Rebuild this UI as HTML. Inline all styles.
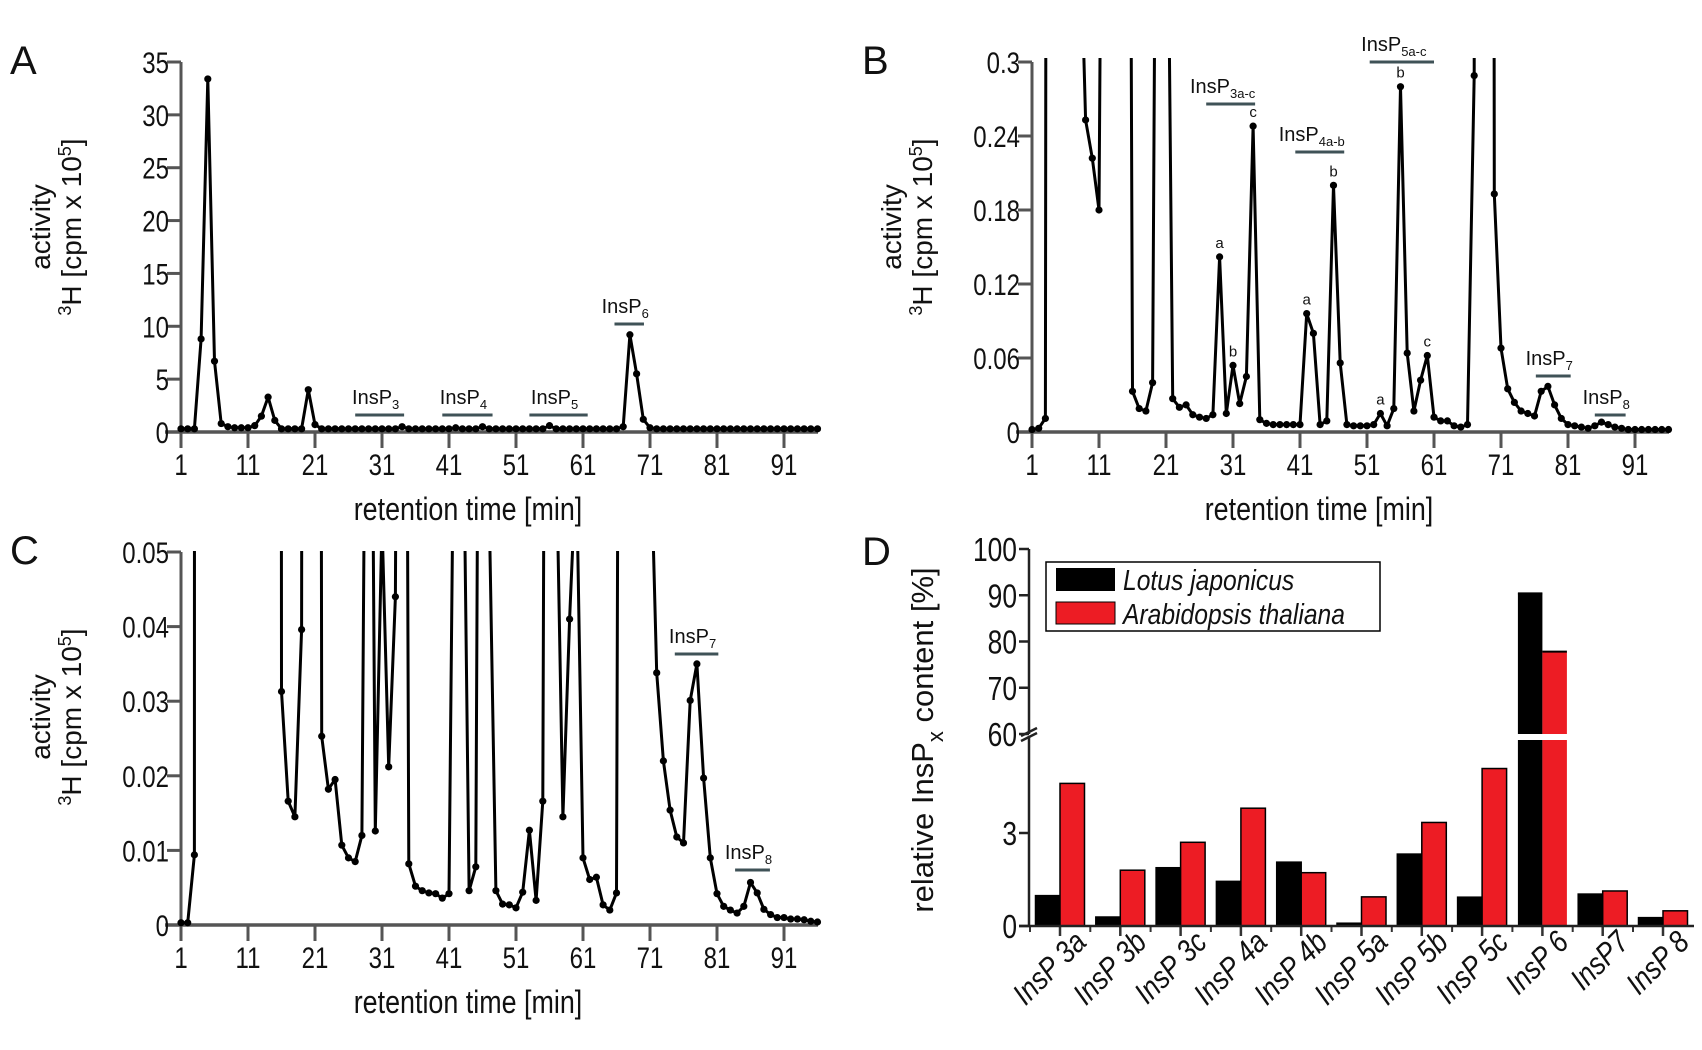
<!DOCTYPE html>
<html><head><meta charset="utf-8"><style>
html,body{margin:0;padding:0;background:#fff;}
svg{display:block;font-family:"Liberation Sans",Arial,sans-serif;}
</style></head><body>
<svg id="fig" width="1702" height="1050" viewBox="0 0 1702 1050" xmlns="http://www.w3.org/2000/svg">
<defs>
<clipPath id="clipA"><rect x="160" y="58" width="670" height="380"/></clipPath>
<clipPath id="clipB"><rect x="1011" y="58" width="670" height="380"/></clipPath>
<clipPath id="clipC"><rect x="160" y="551" width="670" height="380"/></clipPath>
</defs>
</svg>
<script>
// ---- data ----
const timesMin = Array.from({length:96},(_,i)=>i+1);
const seriesA = [0.3,0.3,0.3,8.8,33.4,6.7,0.8,0.5,0.4,0.4,0.4,0.6,1.5,3.3,1.1,0.3,0.3,0.3,0.3,4.0,
0.7,0.3,0.3,0.3,0.3,0.3,0.3,0.3,0.3,0.3,0.3,0.3,0.3,0.5,0.3,0.3,0.3,0.3,0.3,0.3,
0.3,0.4,0.3,0.3,0.3,0.5,0.3,0.3,0.3,0.3,0.3,0.3,0.3,0.3,0.3,0.6,0.3,0.3,0.3,0.3,
0.3,0.3,0.3,0.3,0.3,0.3,0.5,9.2,5.5,1.2,0.4,0.3,0.3,0.3,0.3,0.3,0.3,0.3,0.3,0.3,
0.3,0.3,0.3,0.3,0.3,0.3,0.3,0.3,0.3,0.3,0.3,0.3,0.3,0.3,0.3,0.3];
const seriesB = [0.002,0.003,0.011,5,20,5,1,0.45,0.253,0.222,0.180,1.0,2.0,2.0,1.5,0.033,0.019,0.017,0.040,1.0,
0.6,0.027,0.020,0.022,0.014,0.012,0.011,0.014,0.142,0.015,0.054,0.023,0.045,0.248,0.010,0.007,0.006,0.006,0.006,0.006,
0.006,0.096,0.080,0.006,0.009,0.200,0.056,0.006,0.005,0.005,0.005,0.006,0.015,0.005,0.019,0.280,0.064,0.017,0.042,0.062,
0.012,0.009,0.009,0.005,0.004,0.006,0.289,9.0,5.0,0.193,0.068,0.035,0.024,0.017,0.015,0.013,0.033,0.037,0.022,0.011,
0.006,0.005,0.004,0.003,0.005,0.008,0.006,0.004,0.003,0.002,0.002,0.002,0.002,0.002,0.002,0.002];
const seriesC = [0.0003,0.0003,0.0094,5,20,5,1,0.45,0.25,0.22,0.18,1.0,2.0,2.0,1.5,0.0313,0.0166,0.0145,0.0396,1.0,
0.6,0.0253,0.0182,0.0195,0.0107,0.0090,0.0085,0.0120,0.14,0.0126,0.054,0.0212,0.044,0.248,0.0082,0.0052,0.0046,0.0043,0.0042,0.0036,
0.0042,0.096,0.080,0.0046,0.0078,0.200,0.056,0.0046,0.0028,0.0027,0.0023,0.0044,0.0127,0.0033,0.0166,0.280,0.064,0.0145,0.041,0.062,
0.0090,0.0061,0.0064,0.0027,0.0020,0.0043,0.289,9.0,5.0,0.193,0.068,0.0338,0.0220,0.0154,0.0118,0.0110,0.0301,0.0350,0.0197,0.0090,
0.0042,0.0025,0.0020,0.0016,0.0025,0.0057,0.0043,0.0021,0.0014,0.0010,0.0010,0.0008,0.0008,0.0007,0.0005,0.0004];
const xTickLabels = [1,11,21,31,41,51,61,71,81,91];
const yTicksA = [0,5,10,15,20,25,30,35];
const yTickLabelsB = ["0","0.06","0.12","0.18","0.24","0.3"];
const yTicksB = [0,0.06,0.12,0.18,0.24,0.3];
const yTickLabelsC = ["0","0.01","0.02","0.03","0.04","0.05"];
const yTicksC = [0,0.01,0.02,0.03,0.04,0.05];
const categoriesD = ["InsP 3a","InsP 3b","InsP 3c","InsP 4a","InsP 4b","InsP 5a","InsP 5b","InsP 5c","InsP 6","InsP7","InsP 8"];
const lotusValues = [0.98,0.29,1.88,1.44,2.06,0.09,2.32,0.93,90.4,1.03,0.27];
const arabValues = [4.6,1.8,2.7,3.8,1.72,0.94,3.34,5.08,77.8,1.13,0.49];
const yTicksDLow = [0,3];
const yTicksDHigh = [60,70,80,90,100];

const NS="http://www.w3.org/2000/svg";
const svg=document.getElementById('fig');
function mk(tag,attrs,parent,text){const e=document.createElementNS(NS,tag);for(const k in attrs)e.setAttribute(k,attrs[k]);if(text!==undefined)e.textContent=text;(parent||svg).appendChild(e);return e;}
// condensed text
function ct(x,y,size,anchor,str,parent,sx){return mk('text',{x:0,y:0,'font-size':size,'text-anchor':anchor,fill:'#111',transform:`translate(${x},${y}) scale(${sx||0.8},1)`},parent,str);}

function chrom(p){
  const g=mk('g',{});
  
  
  const xs=t=>p.x1+(t-1)*(p.x91-p.x1)/90;
  const ys=v=>p.yBot-v*(p.yBot-p.yTop)/p.ymax;
  const L=mk('text',{x:p.lx,y:p.ly,'font-size':40,fill:'#111'},g,p.letter);
  
  
  const ya=mk('line',{x1:p.x1,y1:p.yBot,x2:p.x1,y2:p.yTop,stroke:'#555','stroke-width':3},g);
  
  
  const xa=mk('line',{x1:p.x1-16,y1:p.yBot,x2:p.xEnd,y2:p.yBot,stroke:'#555','stroke-width':3.5},g);
  
  
  p.yt.forEach((v,i)=>{
    const y=ys(v);
    const tk=mk('line',{x1:p.x1-14,y1:y,x2:p.x1,y2:y,stroke:'#555','stroke-width':3},g);
    
    
    const tl=ct(p.x1-12,y+11,30,'end',p.ytl[i],g);
    
    
  });
  xTickLabels.forEach(t=>{
    const x=xs(t);
    const tk=mk('line',{x1:x,y1:p.yBot,x2:x,y2:p.yBot+16,stroke:'#555','stroke-width':3},g);
    
    
    const tl=ct(x,p.yBot+43,30,'middle',String(t),g);
    
    
  });
  const xt=ct(p.x1+287,p.yBot+88,32,'middle','retention time [min]',g,0.84);
  
  
  const cy=p.yTop+165;
  const yt1=mk('text',{x:0,y:0,'font-size':28,'text-anchor':'middle',fill:'#111',transform:`translate(${p.x1-131},${cy}) rotate(-90)`},g,'activity');
  
  
  const yt2=mk('text',{x:0,y:0,'font-size':28,'text-anchor':'middle',fill:'#111',transform:`translate(${p.x1-100},${cy}) rotate(-90)`},g);
  
  
  mk('tspan',{'font-size':18,dy:-10},yt2,'3');
  mk('tspan',{dy:10},yt2,'H [cpm x 10');
  mk('tspan',{'font-size':18,dy:-10},yt2,'5');
  mk('tspan',{dy:10},yt2,']');
  const cg=mk('g',{'clip-path':`url(#${p.clip})`},g);
  const d=p.data.map((v,i)=>(i?'L':'M')+xs(timesMin[i]).toFixed(1)+','+ys(v).toFixed(1)).join('');
  const ln=mk('path',{d:d,fill:'none',stroke:'#000','stroke-width':3,'stroke-linejoin':'round'},cg);
  
  
  p.data.forEach((v,i)=>{
    if(v>p.ymax)return;
    const c=mk('circle',{cx:xs(timesMin[i]),cy:ys(v),r:3.6,fill:'#000'},cg);
    
    
  });
  p.ann.forEach(a=>{
    const b=mk('line',{x1:xs(a.t0),y1:a.by,x2:xs(a.t1),y2:a.by,stroke:'#3f5257','stroke-width':3},g);
    
    
    const t=mk('text',{x:(xs(a.t0)+xs(a.t1))/2-(a.sub.length>1?8:4),y:a.by-11,'font-size':20,'text-anchor':'middle',fill:'#111'},g);
    
    
    mk('tspan',{},t,'InsP');
    mk('tspan',{'font-size':13,dy:5},t,a.sub);
  });
  (p.peaks||[]).forEach(pk=>{
    const t=mk('text',{x:xs(pk.t),y:ys(p.data[pk.t-1])-9,'font-size':15,'text-anchor':'middle',fill:'#111'},g,pk.l);
    
    
  });
}

chrom({name:'panel-a',letter:'A',lx:10,ly:74,x1:181,x91:784,xEnd:818,yTop:62,yBot:432,ymax:35,yt:yTicksA,ytl:yTicksA.map(String),data:seriesA,clip:'clipA',
 ann:[{t0:27,t1:34.3,by:415,sub:'3'},{t0:40,t1:47.5,by:415,sub:'4'},{t0:53,t1:61.7,by:415,sub:'5'},{t0:65.7,t1:70.1,by:324,sub:'6'}]});
chrom({name:'panel-b',letter:'B',lx:862,ly:74,x1:1032,x91:1635,xEnd:1669,yTop:62,yBot:432,ymax:0.3,yt:yTicksB,ytl:yTickLabelsB,data:seriesB,clip:'clipB',
 ann:[{t0:27,t1:34.3,by:104,sub:'3a-c'},{t0:40.3,t1:47.6,by:152,sub:'4a-b'},{t0:51.4,t1:61,by:62,sub:'5a-c'},{t0:76.2,t1:81.4,by:376,sub:'7'},{t0:85,t1:89.6,by:415,sub:'8'}],
 peaks:[{t:29,l:'a'},{t:31,l:'b'},{t:34,l:'c'},{t:42,l:'a'},{t:46,l:'b'},{t:53,l:'a'},{t:56,l:'b'},{t:60,l:'c'}]});
chrom({name:'panel-c',letter:'C',lx:10,ly:564,x1:181,x91:784,xEnd:818,yTop:552,yBot:925,ymax:0.05,yt:yTicksC,ytl:yTickLabelsC,data:seriesC,clip:'clipC',
 ann:[{t0:74.7,t1:81.2,by:654,sub:'7'},{t0:83.7,t1:88.9,by:870,sub:'8'}]});

// ---- panel D ----
(function(){
  const g=mk('g',{});
  
  
  const ax=1029, y0=926, lowTop=740, highBot=734, highTop=549;
  const ysL=v=>y0-v*(y0-lowTop)/6;
  const ysH=v=>highBot-(v-60)*(highBot-highTop)/40;
  const xc=i=>1060+i*60.3;
  const L=mk('text',{x:862,y:565,'font-size':40,fill:'#111'},g,'D');
  
  
  const bw=24.5;
  function bar(i,v,off,color,name){
    const x=xc(i)+off;
    if(v<=6){
      const r=mk('rect',{x:x,y:ysL(v),width:bw,height:y0-ysL(v),fill:color,stroke:'#000','stroke-width':1.5},g);
      
      
    } else {
      const r=mk('rect',{x:x,y:lowTop,width:bw,height:y0-lowTop,fill:color},g);
      
      
      const r2=mk('rect',{x:x,y:ysH(v),width:bw,height:highBot-ysH(v),fill:color},g);
      
      
      const tl=mk('line',{x1:x,y1:ysH(v),x2:x+bw,y2:ysH(v),stroke:'#000','stroke-width':2},g);
      
      
    }
  }
  categoriesD.forEach((c,i)=>{
    bar(i,lotusValues[i],-bw,'#000','bar-lotus');
    bar(i,arabValues[i],0,'#ed1c24','bar-arabidopsis');
    const tk=mk('line',{x1:xc(i),y1:y0,x2:xc(i),y2:y0+10,stroke:'#333','stroke-width':2.5},g);
    
    
    const t=mk('text',{x:0,y:0,'font-size':31,'font-style':'italic','text-anchor':'end',fill:'#111',transform:`translate(${xc(i)+28},${y0+18}) rotate(-45) scale(0.85,1)`},g,c);
    
    
  });
  for(let i=0;i<categoriesD.length;i++){
    const m=mk('line',{x1:xc(i)-30,y1:y0,x2:xc(i)-30,y2:y0+6,stroke:'#333','stroke-width':2},g);
    
    
  }
  const xa=mk('line',{x1:ax-10,y1:y0,x2:1694,y2:y0,stroke:'#222','stroke-width':2.5},g);
  
  
  const ya1=mk('line',{x1:ax,y1:y0,x2:ax,y2:lowTop-4,stroke:'#222','stroke-width':2.5},g);
  
  
  const ya2=mk('line',{x1:ax,y1:highBot,x2:ax,y2:highTop,stroke:'#222','stroke-width':2.5},g);
  
  
  const br=mk('path',{d:`M${ax-8},${lowTop+1}L${ax+8},${lowTop-7}M${ax-8},${highBot+2}L${ax+8},${highBot-6}`,stroke:'#222','stroke-width':2.5,fill:'none'},g);
  
  
  const gap=mk('rect',{x:1420,y:highBot,width:120,height:lowTop-highBot,fill:'#fff'},g);
  
  
  yTicksDLow.forEach(v=>{
    const tk=mk('line',{x1:ax-10,y1:ysL(v),x2:ax,y2:ysL(v),stroke:'#222','stroke-width':2.5},g);
    
    
    const t=ct(ax-12,ysL(v)+12,33,'end',String(v),g);
    
    
  });
  yTicksDHigh.forEach(v=>{
    const tk=mk('line',{x1:ax-10,y1:ysH(v),x2:ax,y2:ysH(v),stroke:'#222','stroke-width':2.5},g);
    
    
    const t=ct(ax-12,ysH(v)+12,33,'end',String(v),g);
    
    
  });
  const yt=mk('text',{x:0,y:0,'font-size':31,'text-anchor':'middle',fill:'#111',transform:`translate(933,740) rotate(-90)`},g);
  
  
  mk('tspan',{},yt,'relative InsP');
  mk('tspan',{'font-size':22,dy:10},yt,'x');
  mk('tspan',{dy:-10},yt,' content [%]');
  const lg=mk('g',{},g);
  
  
  mk('rect',{x:1046,y:562,width:334,height:69,fill:'#fff',stroke:'#000','stroke-width':1.5},lg);
  const s1=mk('rect',{x:1056,y:568,width:59,height:23,fill:'#000'},lg);
  
  
  const t1=mk('text',{x:0,y:0,'font-size':29,'font-style':'italic',fill:'#111',transform:'translate(1123,590) scale(0.85,1)'},lg,'Lotus japonicus');
  
  
  const s2=mk('rect',{x:1056,y:602,width:59,height:22,fill:'#ed1c24',stroke:'#000','stroke-width':1},lg);
  
  
  const t2=mk('text',{x:0,y:0,'font-size':29,'font-style':'italic',fill:'#111',transform:'translate(1123,624) scale(0.85,1)'},lg,'Arabidopsis thaliana');
  
  
})();
</script>
</body></html>
